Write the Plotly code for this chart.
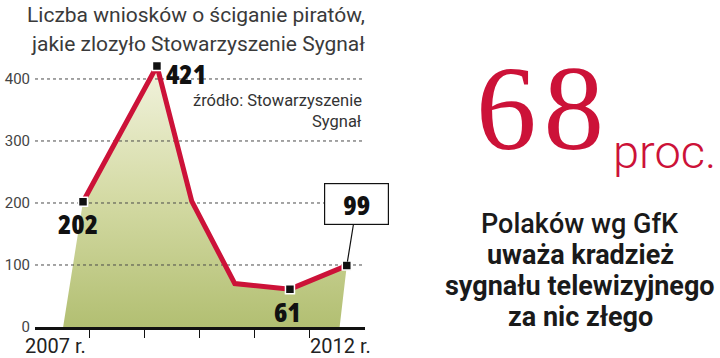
import plotly.graph_objects as go

# ---- data ----
years = [2007.89, 2009.23, 2009.86, 2010.64, 2011.64, 2012.67]
wnioski = [202, 421, 203, 70, 61, 99]
labeled = [True, True, False, False, True, True]
fill_base_x = [2007.53, 2012.54]
y_ticks = [0, 100, 200, 300, 400]
x_ticks = [2008, 2009, 2010, 2011, 2012]
year_labels = ["2007 r.", "2012 r."]
year_label_pos = [2007.39, 2012.55]

title_lines = ["Liczba wniosków o ściganie piratów,", "jakie zlozyło Stowarzyszenie Sygnał"]
source_lines = ["źródło: Stowarzyszenie", "Sygnał"]
big_number = "68"
big_unit = "proc."
side_lines = ["Polaków wg GfK", "uważa kradzież", "sygnału telewizyjnego", "za nic złego"]

W, H = 720, 358
RED = "#cc1238"
SANS = "Roboto, 'Liberation Sans', sans-serif"
NUMF = "'Open Sans', sans-serif"

def px(x):
    return x / W

def py(y):
    return 1 - y / H

def cond(s):
    return f'<span style="font-stretch:condensed;font-weight:800">{s}</span>'

XR = [2007.02, 2013.0]
YR = [0, 430.6]

fig = go.Figure()

# fill under the line
fig.add_trace(go.Scatter(
    x=[fill_base_x[0]] + years + [fill_base_x[1]],
    y=[0] + wnioski + [0],
    mode="lines", fill="toself",
    line=dict(width=0, color="rgba(0,0,0,0)"),
    fillgradient=dict(type="vertical", start=0, stop=430,
                      colorscale=[[0, "#b2bf72"], [0.5, "#d5dba6"], [1, "#f3f4e0"]]),
    hoverinfo="skip", showlegend=False))

# dotted grid lines (drawn above the fill, below the line)
gx, gy = [], []
for v in y_ticks[1:]:
    gx += [XR[0], XR[1], None]
    gy += [v, v, None]
fig.add_trace(go.Scatter(x=gx, y=gy, mode="lines",
                         line=dict(color="#4a4a4a", width=1, dash="3px,3px"),
                         hoverinfo="skip", showlegend=False))

# red line
fig.add_trace(go.Scatter(x=years, y=wnioski, mode="lines",
                         line=dict(color=RED, width=5),
                         hoverinfo="skip", showlegend=False))

# markers
mx = [x for x, m in zip(years, labeled) if m]
my = [y for y, m in zip(wnioski, labeled) if m]
fig.add_trace(go.Scatter(x=mx, y=my, mode="markers",
                         marker=dict(symbol="square", size=9, color="#111111",
                                     line=dict(color="white", width=1.5)),
                         hoverinfo="skip", showlegend=False))

ann = []
# value labels
offsets = {0: (-5, -21), 1: (29, -7), 4: (-2, -22)}
for i, (dx, dy) in offsets.items():
    ann.append(dict(x=years[i], y=wnioski[i], xref="x", yref="y", text=cond(wnioski[i]),
                    showarrow=False, xshift=dx, yshift=dy, height=24,
                    font=dict(family=NUMF, size=27, color="#111111")))
# boxed 99
ann.append(dict(x=years[5], y=wnioski[5], xref="x", yref="y", text=cond(wnioski[5]),
                showarrow=True, arrowhead=0, arrowwidth=1.2, arrowcolor="#111111",
                ax=10, ay=-62, standoff=4,
                bordercolor="#111111", borderwidth=1.2, borderpad=4, bgcolor="white",
                width=55, height=32,
                font=dict(family=NUMF, size=27, color="#111111")))

# year labels under axis
for lab, pos in zip(year_labels, year_label_pos):
    ann.append(dict(x=pos, y=py(346), xref="x", yref="paper", text=lab, showarrow=False,
                    xanchor="center", yanchor="middle",
                    font=dict(family=SANS, size=20, color="#222222")))

# title
for i, t in enumerate(title_lines):
    ann.append(dict(x=px(367), y=py(15 + 29 * i), xref="paper", yref="paper", text=t,
                    showarrow=False, xanchor="right", yanchor="middle", height=24,
                    font=dict(family=SANS, size=21, color="#3a3a3a", weight=400)))
# source
for i, t in enumerate(source_lines):
    ann.append(dict(x=px(364), y=py(100 + 21 * i), xref="paper", yref="paper", text=t,
                    showarrow=False, xanchor="right", yanchor="middle",
                    font=dict(family=SANS, size=16.5, color="#333333", weight=400)))

# big number
ann.append(dict(x=px(474), y=py(108), xref="paper", yref="paper",
                text=f'<span style="letter-spacing:7px">{big_number}</span>',
                showarrow=False, xanchor="left", yanchor="middle",
                font=dict(family="'Liberation Serif', serif", size=121, color=RED)))
ann.append(dict(x=px(611), y=py(151), xref="paper", yref="paper", text=big_unit,
                showarrow=False, xanchor="left", yanchor="middle",
                font=dict(family=SANS, size=47, color=RED, weight=300)))

# side text
for i, t in enumerate(side_lines):
    ann.append(dict(x=px(580), y=py(224 + 31 * i), xref="paper", yref="paper", text=t,
                    showarrow=False, xanchor="center", yanchor="middle",
                    font=dict(family=SANS, size=27, color="#1a1a1a",
                              weight=500 if i == 0 else 700)))

fig.update_layout(
    width=W, height=H, margin=dict(l=0, r=0, t=0, b=0),
    paper_bgcolor="white", plot_bgcolor="white",
    template="none",
    showlegend=False,
    annotations=ann,
    xaxis=dict(domain=[px(35), px(365)], range=XR, showgrid=False, zeroline=False,
               showline=True, linecolor="#111111", linewidth=2.5,
               ticks="outside", ticklen=8, tickwidth=1.2, tickcolor="#111111",
               tickvals=x_ticks, showticklabels=False, fixedrange=True),
    yaxis=dict(domain=[py(327), py(60)], range=YR, showgrid=False, zeroline=False,
               showline=False, ticks="", tickvals=y_ticks,
               ticklabelstandoff=4,
               tickfont=dict(family=SANS, size=15, color="#444444"), fixedrange=True),
)

fig.write_html("out.html")
